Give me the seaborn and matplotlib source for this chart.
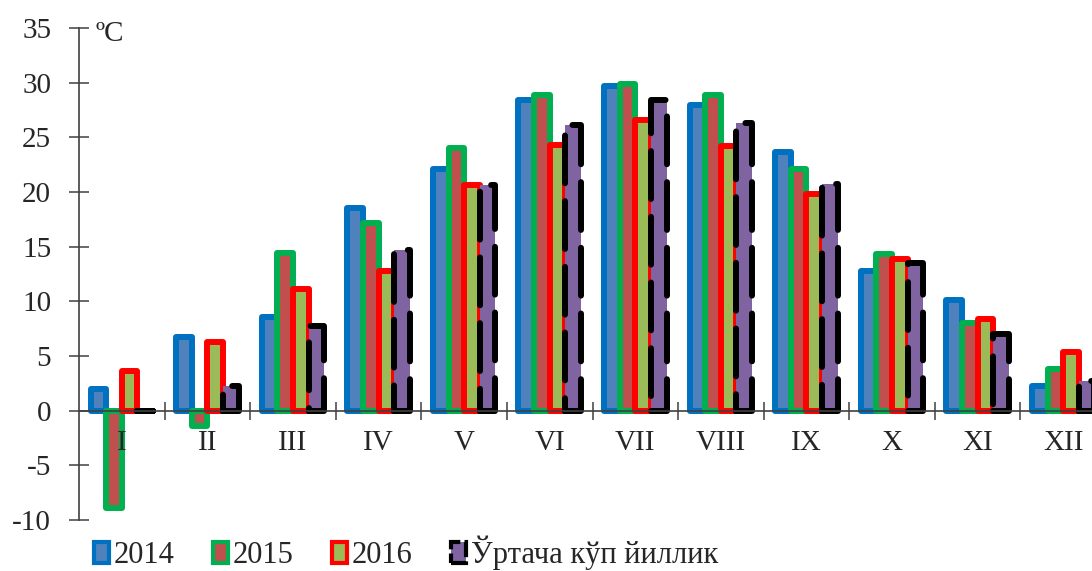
import numpy as np
import pandas as pd
import matplotlib
matplotlib.use("Agg")
import matplotlib.pyplot as plt
from matplotlib.patches import Patch
from matplotlib.ticker import FixedLocator
import seaborn as sns

months = ["I", "II", "III", "IV", "V", "VI", "VII", "VIII", "IX", "X", "XI", "XII"]
series = ["2014", "2015", "2016", "Ўртача кўп йиллик"]
v2014 = [2.0, 6.7, 8.6, 18.5, 22.1, 28.4, 29.7, 28.0, 23.7, 12.8, 10.1, 2.3]
v2015 = [-8.9, -1.4, 14.4, 17.2, 24.0, 28.9, 29.9, 28.9, 22.1, 14.3, 8.0, 3.8]
v2016 = [3.6, 6.3, 11.1, 12.8, 20.6, 24.3, 26.6, 24.2, 19.8, 13.9, 8.4, 5.4]
vavg = [0.0, 2.3, 7.7, 14.7, 20.6, 26.1, 28.4, 26.3, 20.7, 13.5, 7.0, 2.7]
yticks = [-10, -5, 0, 5, 10, 15, 20, 25, 30, 35]

fills = ["#4F81BD", "#C0504D", "#9BBB59", "#8064A2"]
edges = ["#0070C0", "#00B050", "#FF0000", "#000000"]
styles = ["solid", "solid", "solid", (0, (8, 3))]

df = pd.DataFrame({
    "month": months * 4,
    "series": sum([[s] * len(months) for s in series], []),
    "value": v2014 + v2015 + v2016 + vavg,
})

sns.set_style("white")
plt.rcParams["font.family"] = ["Liberation Serif", "DejaVu Serif"]
plt.rcParams["axes.unicode_minus"] = False

dpi = 100
fig = plt.figure(figsize=(10.92, 5.71), dpi=dpi)
ax = fig.add_axes([79 / 1092, 1 - 520 / 571, 1027 / 1092, (520 - 28) / 571])

lw = 4.3
sns.barplot(data=df, x="month", y="value", hue="series", order=months,
            hue_order=series, palette=fills, saturation=1, width=0.73,
            linewidth=lw, edgecolor="k", errorbar=None, legend=False, ax=ax)

for cont, ec, ls in zip(ax.containers, edges, styles):
    for bar in cont:
        bar.set_edgecolor(ec)
        bar.set_linewidth(lw)
        bar.set_linestyle(ls)
        bar.set_joinstyle("round")
        bar.set_capstyle("round")

ax.set_axisbelow(False)
ax.xaxis.set_zorder(5)
ax.yaxis.set_zorder(5)

ax.set_xlim(-0.5, 11.5)
ax.set_ylim(-10, 35)
ax.set_yticks(yticks)
ax.set_yticklabels([str(t) for t in yticks])
ax.set_xlabel("")
ax.set_ylabel("")

for s in ["top", "right"]:
    ax.spines[s].set_visible(False)
ax.spines["bottom"].set_position(("data", 0))
for s in ["bottom", "left"]:
    ax.spines[s].set_color("#404040")
    ax.spines[s].set_linewidth(1.2)
    ax.spines[s].set_zorder(5)

ax.tick_params(axis="y", direction="inout", length=14, width=1.1, color="#404040",
               labelsize=21, pad=13, left=True)
ax.tick_params(axis="x", which="major", length=0, labelsize=21, pad=14, bottom=True)
ax.xaxis.set_minor_locator(FixedLocator(np.arange(0.5, 12, 1.0)))
ax.tick_params(axis="x", which="minor", direction="inout", length=13, width=1.1,
               color="#404040", bottom=True)

ax.text(-0.31, 35.6, "ºC", fontsize=21, va="top", ha="left")

handles = [Patch(facecolor=f, edgecolor=e, linewidth=3.0, joinstyle="round",
                 linestyle=("solid" if i < 3 else (0, (4, 1))))
           for i, (f, e) in enumerate(zip(fills, edges))]
fig.legend(handles, series, loc="center left", bbox_to_anchor=(94 / 1092, 1 - 553 / 571),
           ncol=4, frameon=False, fontsize=22, handlelength=0.5, handleheight=0.7,
           handletextpad=0.15, columnspacing=1.25, borderaxespad=0, borderpad=0)

fig.savefig("out.png", dpi=dpi)
